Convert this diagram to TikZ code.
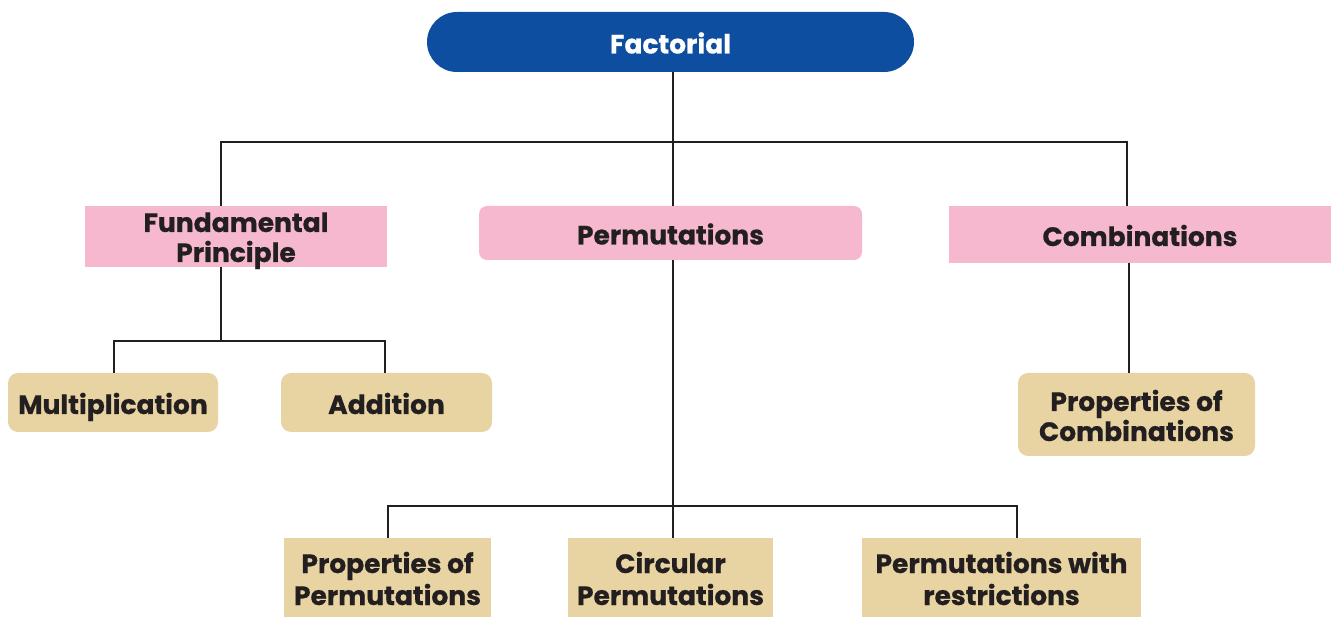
\documentclass[tikz,border=0pt]{standalone}
\usepackage{fontspec}
\setmainfont{Poppins}[BoldFeatures={FakeBold=0.6}]
\definecolor{navy}{HTML}{0D4EA0}
\definecolor{pinkbox}{HTML}{F6B8CE}
\definecolor{tanbox}{HTML}{E8D3A2}
\definecolor{ink}{HTML}{231F20}
\begin{document}
\begin{tikzpicture}[x=1pt,y=-1pt,
  box/.style={inner sep=0pt, align=center, text=ink, text height=23pt, text depth=0pt,
    font=\fontsize{26.5}{30}\selectfont\bfseries},
  twoline/.style={text height=51pt},
  lowbox/.style={box, text height=55pt, font=\fontsize{26.5}{32}\selectfont\bfseries},
  pinkrect/.style={box, fill=pinkbox},
  pinkround/.style={box, fill=pinkbox, rounded corners=8pt},
  tanrect/.style={lowbox, fill=tanbox},
  tanround/.style={box, fill=tanbox, rounded corners=10pt},
  link/.style={draw=ink, line width=2.6pt}]
\useasboundingbox (0,0) rectangle (1331,617);
\node[box, fill=navy, text=white, rounded corners=30pt, minimum width=487pt, minimum height=60pt] (fac) at (670.5,42) {Factorial};
\node[pinkrect, twoline, minimum width=302pt, minimum height=61pt] (fp) at (236,236.5) {Fundamental\\Principle};
\node[pinkround, minimum width=383pt, minimum height=54pt] (perm) at (670.5,233) {Permutations};
\node[pinkrect, minimum width=382pt, minimum height=57pt] (comb) at (1140,234.5) {Combinations};
\node[tanround, minimum width=210pt, minimum height=59pt] (mul) at (113,402.5) {Multiplication};
\node[tanround, minimum width=211pt, minimum height=59pt] (add) at (386.5,402.5) {Addition};
\node[tanround, twoline, text height=53pt, minimum width=237pt, minimum height=83pt] (pc) at (1136.5,414.5) {Properties of\\Combinations};
\node[tanrect, minimum width=207pt, minimum height=79pt] (pp) at (387.5,577.5) {Properties of\\Permutations};
\node[tanrect, minimum width=205pt, minimum height=79pt] (cp) at (670.5,577.5) {Circular\\Permutations};
\node[tanrect, minimum width=279pt, minimum height=79pt] (pr) at (1001.5,577.5) {Permutations with\\restrictions};
\coordinate (bus1) at (673,142);
\coordinate (bus2) at (221,341);
\coordinate (bus3) at (673,506);
\draw[link] (fac.south -| bus1) -- (bus1);
\draw[link] (221,206 |- fp.north) |- (bus1) -| (1127,0 |- comb.north);
\draw[link] (bus1) -- (673,0 |- perm.north);
\draw[link] (221,0 |- fp.south) -- (bus2);
\draw[link] (114,0 |- mul.north) |- (bus2) -| (385,0 |- add.north);
\draw[link] (673,0 |- perm.south) -- (bus3);
\draw[link] (388,0 |- pp.north) |- (bus3) -| (1017,0 |- pr.north);
\draw[link] (bus3) -- (673,0 |- cp.north);
\draw[link] (1129,0 |- comb.south) -- (1129,0 |- pc.north);
\end{tikzpicture}
\end{document}
